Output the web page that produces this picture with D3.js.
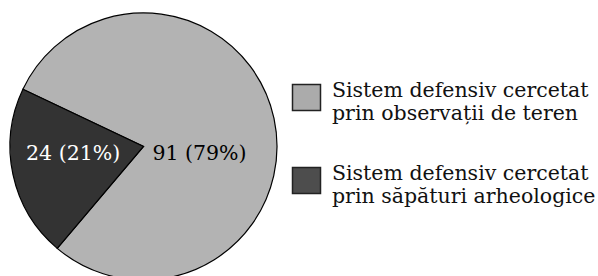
<!DOCTYPE html>
<html>
<head>
<meta charset="utf-8">
<script src="https://cdn.jsdelivr.net/npm/d3@7"></script>
<style>
  body { margin: 0; background: #fff; }
  svg text { font-family: "DejaVu Serif", serif; }
</style>
</head>
<body>
<svg id="chart"></svg>
<script>
var width = 598;
var height = 276;

// data
var counts = [91, 24];
var shares = ["79%", "21%"];
var legendLines = [
  ["Sistem defensiv cercetat", "prin observații de teren"],
  ["Sistem defensiv cercetat", "prin săpături arheologice"]
];
var sliceColors = ["#b3b3b3", "#333333"];
var legendColors = ["#ababab", "#4d4d4d"];

var cx = 143.5, cy = 146.5, radius = 133.5;

var svg = d3.select("#chart")
    .attr("width", width)
    .attr("height", height);

var pie = d3.pie()
    .sort(null)
    .startAngle(-64.6 * Math.PI / 180)
    .endAngle(-64.6 * Math.PI / 180 + 2 * Math.PI);

var arc = d3.arc().innerRadius(0).outerRadius(radius);
var labelArc = d3.arc().innerRadius(72).outerRadius(72);

var g = svg.append("g")
    .attr("transform", "translate(" + cx + "," + cy + ")");

var slices = pie(counts);

g.selectAll("path")
  .data(slices)
  .enter()
  .append("path")
    .attr("d", arc)
    .attr("fill", (d, i) => sliceColors[i])
    .attr("stroke", "#000")
    .attr("stroke-width", 1.2);

// labels sit on one horizontal line just below the centre
g.selectAll("text.lab")
  .data(slices)
  .enter()
  .append("text")
    .attr("class", "lab")
    .attr("x", (d, i) => i == 0 ? 56 : labelArc.centroid(d)[0])
    .attr("y", 13.5)
    .attr("text-anchor", "middle")
    .attr("font-size", 20.5)
    .attr("fill", (d, i) => i == 0 ? "#000" : "#fff")
    .text((d, i) => counts[i] + " (" + shares[i] + ")");

// legend
var legend = svg.append("g")
    .attr("transform", "translate(292,84)");

var item = legend.selectAll("g")
  .data(legendLines)
  .enter()
  .append("g")
    .attr("transform", (d, i) => "translate(0," + i * 83 + ")");

item.append("rect")
    .attr("x", 0.5)
    .attr("y", 0.5)
    .attr("width", 28)
    .attr("height", 26)
    .attr("fill", (d, i) => legendColors[i])
    .attr("stroke", "#222")
    .attr("stroke-width", 1.5);

item.selectAll("text")
  .data(d => d)
  .enter()
  .append("text")
    .attr("x", 40)
    .attr("y", (d, j) => 13 + j * 23)
    .attr("font-size", 20.5)
    .attr("fill", "#111")
    .text(d => d);
</script>
</body>
</html>
